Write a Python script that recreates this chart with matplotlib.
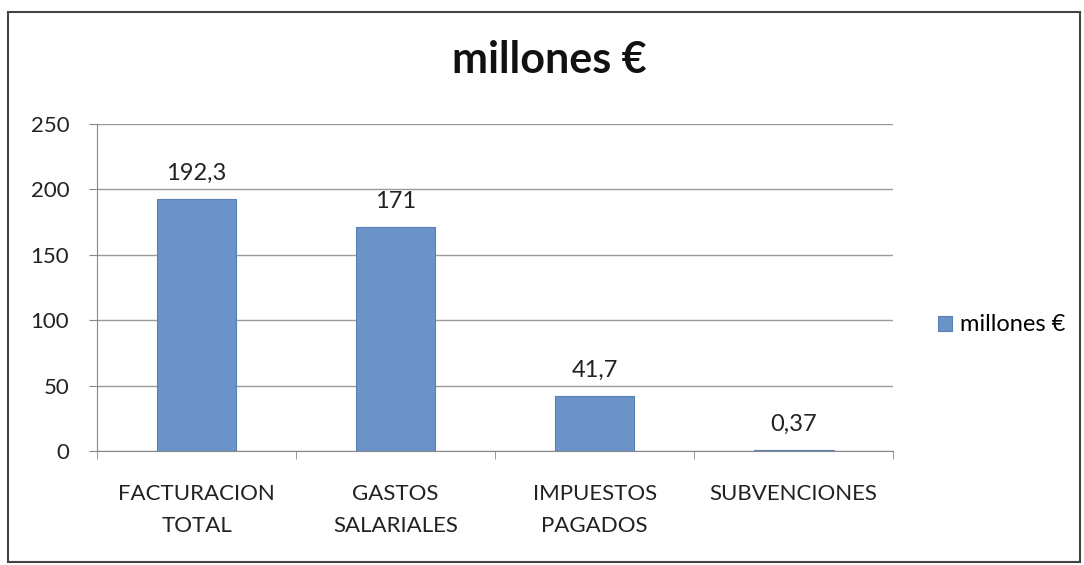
import matplotlib
matplotlib.use("Agg")
import matplotlib.pyplot as plt
from matplotlib.patches import Rectangle

categories = ["FACTURACION\nTOTAL", "GASTOS\nSALARIALES", "IMPUESTOS\nPAGADOS", "SUBVENCIONES"]
values = [192.3, 171, 41.7, 0.37]
value_labels = ["192,3", "171", "41,7", "0,37"]
yticks = [0, 50, 100, 150, 200, 250]
series_name = "millones €"
title = "millones €"

plt.rcParams['font.family'] = ['Lato', 'DejaVu Sans']

fig = plt.figure(figsize=(10.84, 5.65), dpi=100)
fig.patch.set_facecolor('white')
ax = fig.add_axes([0.0895, 0.2018, 0.7345, 0.5787])

bar_color = '#6b93c8'
x = list(range(len(categories)))
bars = ax.bar(x, values, width=0.4, color=bar_color, edgecolor='#5a80b8', linewidth=0.8,
              label=series_name, zorder=3)
for xi, v, lab in zip(x, values, value_labels):
    ax.text(xi, v + 12, lab, ha='center', va='bottom', fontsize=17, color='#222222')

ax.set_xlim(-0.5, len(categories) - 0.5)
ax.set_ylim(0, 250)
ax.set_yticks(yticks)
ax.set_yticklabels([str(t) for t in yticks], fontsize=16, color='#222222')
ax.set_xticks(x)
ax.set_xticklabels(categories, fontsize=16, color='#222222', linespacing=1.75)
ax.set_xticks([i - 0.5 for i in range(len(categories) + 1)], minor=True)
ax.tick_params(axis='x', which='major', length=0, pad=24)
ax.tick_params(axis='x', which='minor', length=6, color='#888888')
ax.tick_params(axis='y', length=6, color='#888888', pad=14)
ax.grid(axis='y', color='#9a9a9a', linewidth=1.0, zorder=0)
for s in ['top', 'right']:
    ax.spines[s].set_visible(False)
ax.spines['left'].set_color('#888888')
ax.spines['bottom'].set_color('#888888')

fig.text(0.507, 0.893, title, ha='center', va='center', fontsize=31, fontweight='bold', color='#111111')

fig.legend(loc='center left', bbox_to_anchor=(0.846, 0.425), frameon=False, fontsize=17,
           handlelength=0.6, handleheight=0.6, handletextpad=0.3)

fig.add_artist(Rectangle((8 / 1084, 3 / 565), 1072 / 1084, 550 / 565, transform=fig.transFigure,
                         fill=False, edgecolor='#444444', linewidth=1.5))

fig.savefig('out.png', dpi=100)
